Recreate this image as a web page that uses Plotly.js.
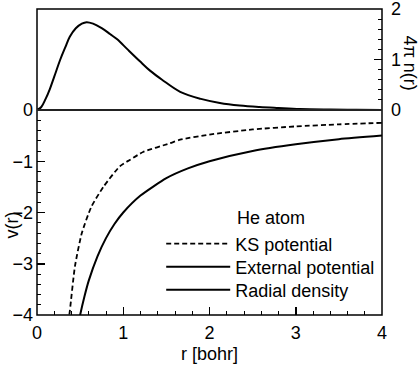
<!DOCTYPE html>
<html>
<head>
<meta charset="utf-8">
<script src="https://cdn.plot.ly/plotly-3.0.1.min.js"></script>
<style>
  html, body { margin: 0; padding: 0; background: #fff; }
  #chart { width: 420px; height: 375px; }
</style>
</head>
<body>
<div id="chart"></div>
<script>
// KS potential (dashed)
var ks_r = [0.35, 0.38, 0.44, 0.52, 0.63, 0.77, 0.96, 1.08, 1.23, 1.54, 1.66, 2.0, 2.5, 3.0, 3.5, 4.0];
var ks_v = [-4.3, -3.93, -3.05, -2.4, -1.89, -1.5, -1.1, -0.97, -0.82, -0.65, -0.58, -0.48, -0.38, -0.32, -0.28, -0.25];

// external potential (solid)
var ext_r = [0.48, 0.5, 0.55, 0.6, 0.7, 0.8, 0.9, 1.0, 1.2, 1.5, 1.75, 2.0, 2.5, 3.0, 3.5, 4.0];
var ext_v = [-4.17, -4.0, -3.64, -3.33, -2.86, -2.5, -2.22, -2.0, -1.67, -1.33, -1.14, -1.0, -0.8, -0.67, -0.57, -0.5];

// radial density 4 pi r^2 n(r), upper panel
var rho_r = [0, 0.05, 0.1, 0.15, 0.2, 0.27, 0.33, 0.38, 0.45, 0.52, 0.575, 0.65, 0.75, 0.85, 0.93, 1.05, 1.19, 1.31, 1.45, 1.66, 1.9, 2.12, 2.35, 2.58, 2.8, 3.05, 3.4, 3.7, 4.0];
var rho_n = [0, 0.06, 0.22, 0.42, 0.66, 1.0, 1.25, 1.45, 1.62, 1.71, 1.74, 1.71, 1.62, 1.5, 1.4, 1.2, 0.97, 0.78, 0.6, 0.36, 0.22, 0.14, 0.09, 0.06, 0.04, 0.02, 0.01, 0.005, 0.002];

var series_names = ["KS potential", "External potential", "Radial density"];

var FONT = "Liberation Sans, Arial, Helvetica, sans-serif";
var split = 205 / 306;

var traces = [
  { x: ks_r, y: ks_v, name: series_names[0], mode: "lines", xaxis: "x", yaxis: "y", legend: "legend",
    line: { color: "#000", width: 1.8, dash: "5px,3px", shape: "spline", smoothing: 0.6 } },
  { x: ext_r, y: ext_v, name: series_names[1], mode: "lines", xaxis: "x", yaxis: "y", legend: "legend2",
    line: { color: "#000", width: 2, shape: "spline", smoothing: 0.6 } },
  { x: rho_r, y: rho_n, name: series_names[2], mode: "lines", xaxis: "x", yaxis: "y2", legend: "legend3",
    line: { color: "#000", width: 2, shape: "spline" } }
];

// one legend per entry so the rows sit where the reference has them
function legendAt(yPaper) {
  return {
    x: 0.36, y: yPaper, xanchor: "left", yanchor: "middle",
    bgcolor: "rgba(0,0,0,0)", font: { size: 18 }, itemwidth: 64
  };
}

var layout = {
  width: 420, height: 375,
  margin: { l: 37, r: 38, t: 9, b: 60 },
  paper_bgcolor: "#fff", plot_bgcolor: "#fff",
  font: { family: FONT, size: 18, color: "#000" },
  showlegend: true,
  legend: legendAt(0.232),
  legend2: legendAt(0.157),
  legend3: legendAt(0.0817),
  xaxis: {
    range: [0, 4], anchor: "y", showgrid: false, zeroline: false,
    ticks: "inside", ticklen: 8, tickwidth: 1.5, tickcolor: "#000", ticklabelstandoff: 5,
    tickvals: [0, 1, 2, 3, 4], tickfont: { size: 18 },
    minor: { dtick: 0.2, ticks: "inside", ticklen: 4, tickwidth: 1, tickcolor: "#000" },
    title: { text: "r [bohr]", font: { size: 18 }, standoff: 5 }
  },
  yaxis: {
    range: [-4, 0], domain: [0, split], showgrid: false, zeroline: false,
    ticks: "inside", ticklen: 8, tickwidth: 1.5, tickcolor: "#000", ticklabelstandoff: 3,
    tickvals: [0, -1, -2, -3, -4], tickfont: { size: 18 },
    minor: { dtick: 0.2, ticks: "inside", ticklen: 4, tickwidth: 1, tickcolor: "#000" }
  },
  yaxis2: {
    range: [0, 2], domain: [split, 1], anchor: "x", side: "right",
    showgrid: false, zeroline: false, ticklabeloverflow: "allow",
    ticks: "inside", ticklen: 8, tickwidth: 1.5, tickcolor: "#000", ticklabelstandoff: 8,
    tickvals: [0, 1, 2], tickfont: { size: 18 },
    minor: { dtick: 0.2, ticks: "inside", ticklen: 4, tickwidth: 1, tickcolor: "#000" }
  },
  shapes: [
    { type: "rect", xref: "paper", yref: "paper", x0: 0, x1: 1, y0: 0, y1: 1,
      line: { color: "#000", width: 1.5 } },
    { type: "line", xref: "paper", yref: "paper", x0: 0, x1: 1, y0: split, y1: split,
      line: { color: "#222", width: 2 } }
  ],
  annotations: [
    { text: "He atom", xref: "paper", yref: "paper", x: 0.575, y: 0.317,
      xanchor: "left", yanchor: "middle", showarrow: false, font: { size: 18 } },
    { text: "v(r)", xref: "paper", yref: "paper", x: -0.072, y: 0.293,
      xanchor: "center", yanchor: "middle", textangle: -90, showarrow: false, font: { size: 18 } },
    { text: "4\u03c0 n(r)", xref: "paper", yref: "paper", x: 1.08, y: 0.8235,
      xanchor: "center", yanchor: "middle", textangle: 90, showarrow: false, font: { size: 18 } }
  ]
};

Plotly.newPlot("chart", traces, layout, { staticPlot: true, displayModeBar: false });
</script>
</body>
</html>
